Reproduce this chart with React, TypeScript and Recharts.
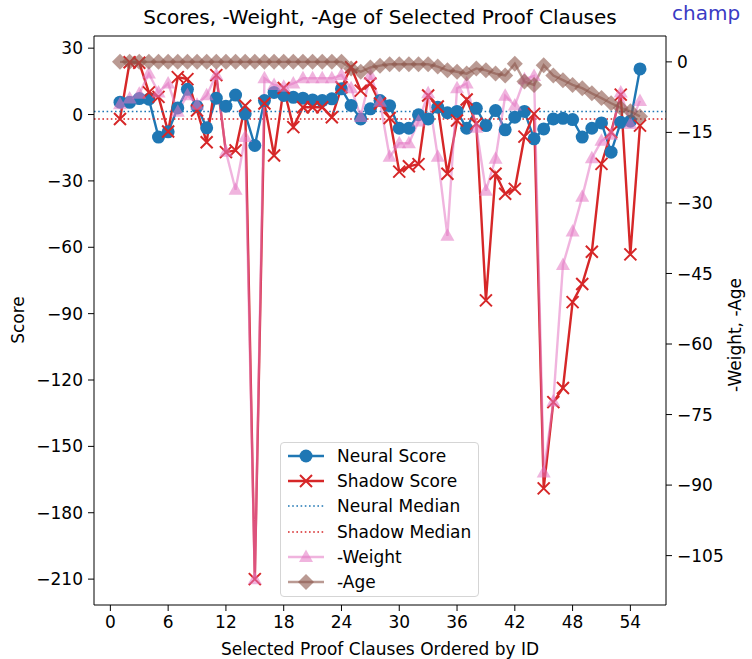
import React from "react";
import {
  ComposedChart,
  Line,
  XAxis,
  YAxis,
  ReferenceLine,
} from "recharts";

// values
const clauseIds = [
  1, 2, 3, 4, 5, 6, 7, 8, 9, 10, 11, 12, 13, 14, 15, 16, 17, 18, 19, 20,
  21, 22, 23, 24, 25, 26, 27, 28, 29, 30, 31, 32, 33, 34, 35, 36, 37, 38, 39, 40,
  41, 42, 43, 44, 45, 46, 47, 48, 49, 50, 51, 52, 53, 54, 55,
];

const neuralScores = [
  5.6, 5.5, 7.2, 6.9, -10.2, -7.8, 3, 11.4, 3.6, -6, 7.4, 3.8, 8.8, 0.3, -14, 6.3, 10, 8.6, 7.8, 7.4,
  6.6, 6.3, 7.1, 11.6, 4.1, -2, 2.6, 6.3, 4, -6.2, -6.2, -0.1, -2, 3.3, 0.8, 1.4, -6.2, 2.8, -5, 1.8,
  -6.9, -1.2, 1.4, -11, -6.5, -2, -1.7, -2.3, -10.2, -6.2, -3.8, -17, -3.5, -3, 20.6,
];

const shadowScores = [
  -2, 23.6, 23.4, 10, 8, -7.7, 16.9, 16, 1.8, -12.5, 17.8, -17, -16.2, 4, -210, 5, -18.5, 12, -5.7, 3.3,
  3.3, 3.3, -1.2, 12.3, 21.4, 10.8, 14, 5, -1.6, -25.8, -23.4, -22.4, 8.6, 3.6, -26.8, -2.7, 6.8, -4.2, -84, -26.8,
  -35.8, -33.6, -10, 0.3, -169, -130, -123.6, -84.8, -76.6, -62, -22.3, -8, 9, -63.2, -5,
];

const negWeights = [
  -9, -7.8, -6.8, -2.5, -6.5, -4.6, -10.6, -7.1, -9.1, -7.1, -2.8, -19.1, -27.2, -16, -110, -3.5, -4.9, -5.3, -4.6, -3.5,
  -3.5, -3.5, -3.5, -2.8, -5.6, -11.7, -2.8, -8.5, -20.2, -17.3, -17.3, -12.7, -6.7, -20.2, -37, -5.6, -4.6, -14, -27.4, -20.6,
  -7.2, -9.3, -3.7, -3, -87.3, -72.2, -43.2, -36.1, -28.7, -20.5, -16.8, -15.5, -6.5, -13.2, -8.3,
];

const negAges = [
  0, 0, 0, 0, 0, 0, 0, 0, 0, 0, 0, 0, 0, 0, 0, 0, 0, 0, 0, 0,
  0, 0, 0, 0, -1.4, -2.1, -1.2, -0.8, -0.5, -0.5, -0.5, -0.5, -0.5, -1, -1.8, -2.1, -2.5, -1.4, -1.8, -2.5,
  -2.9, -0.4, -4.2, -4.9, -0.7, -2.9, -3.9, -4.9, -5.6, -6.7, -7.7, -8.8, -9.8, -10.5, -11.6,
];

const neuralMedian = 1.4;
const shadowMedian = -2;

const xTicks = [0, 6, 12, 18, 24, 30, 36, 42, 48, 54];
const scoreTicks = [30, 0, -30, -60, -90, -120, -150, -180, -210];
const rightTicks = [0, -15, -30, -45, -60, -75, -90, -105];

const BLUE = "#1f77b4";
const RED = "#d62728";
const PINK = "#e377c2";
const BROWN = "#8c564b";
const FONT = "DejaVu Sans";

const data = clauseIds.map((id, i) => ({
  id,
  neural: neuralScores[i],
  shadow: shadowScores[i],
  weight: negWeights[i],
  age: negAges[i],
}));

const fmt = (v: number) => (v < 0 ? "\u2212" + Math.abs(v) : String(v));

const tickStyle = { fill: "#000", fontSize: 17, fontFamily: FONT };

const circleDot = (p: any) => {
  if (p.cx == null || p.cy == null) return <g key={`n${p.index}`} />;
  return <circle key={`n${p.index}`} cx={p.cx} cy={p.cy} r={6.5} fill={BLUE} />;
};

const crossDot = (p: any) => {
  if (p.cx == null || p.cy == null) return <g key={`s${p.index}`} />;
  const { cx, cy } = p;
  const s = 6;
  return (
    <path
      key={`s${p.index}`}
      d={`M${cx - s},${cy - s}L${cx + s},${cy + s}M${cx - s},${cy + s}L${cx + s},${cy - s}`}
      stroke={RED}
      strokeWidth={2}
      fill="none"
    />
  );
};

const triDot = (p: any) => {
  if (p.cx == null || p.cy == null) return <g key={`w${p.index}`} />;
  const { cx, cy } = p;
  return (
    <polygon
      key={`w${p.index}`}
      points={`${cx},${cy - 7.5} ${cx + 7},${cy + 5} ${cx - 7},${cy + 5}`}
      fill={PINK}
      fillOpacity={0.55}
    />
  );
};

const diamondDot = (p: any) => {
  if (p.cx == null || p.cy == null) return <g key={`a${p.index}`} />;
  const { cx, cy } = p;
  return (
    <polygon
      key={`a${p.index}`}
      points={`${cx},${cy - 8} ${cx + 8},${cy} ${cx},${cy + 8} ${cx - 8},${cy}`}
      fill={BROWN}
      fillOpacity={0.6}
    />
  );
};

const legendItems = [
  { label: "Neural Score", kind: "circle" },
  { label: "Shadow Score", kind: "cross" },
  { label: "Neural Median", kind: "dotBlue" },
  { label: "Shadow Median", kind: "dotRed" },
  { label: "-Weight", kind: "tri" },
  { label: "-Age", kind: "diamond" },
];

function LegendIcon({ kind }: { kind: string }) {
  const y = 10;
  switch (kind) {
    case "circle":
      return (
        <svg width={40} height={20}>
          <line x1={2} y1={y} x2={38} y2={y} stroke={BLUE} strokeWidth={2.4} />
          <circle cx={20} cy={y} r={6.5} fill={BLUE} />
        </svg>
      );
    case "cross":
      return (
        <svg width={40} height={20}>
          <line x1={2} y1={y} x2={38} y2={y} stroke={RED} strokeWidth={2.4} />
          <path d={`M14,${y - 6}L26,${y + 6}M14,${y + 6}L26,${y - 6}`} stroke={RED} strokeWidth={2} />
        </svg>
      );
    case "dotBlue":
    case "dotRed":
      return (
        <svg width={40} height={20}>
          <line
            x1={2}
            y1={y}
            x2={38}
            y2={y}
            stroke={kind === "dotBlue" ? BLUE : RED}
            strokeWidth={1.6}
            strokeDasharray="1.6 2.6"
          />
        </svg>
      );
    case "tri":
      return (
        <svg width={40} height={20}>
          <line x1={2} y1={y} x2={38} y2={y} stroke={PINK} strokeOpacity={0.55} strokeWidth={2.4} />
          <polygon points={`20,${y - 7.5} 27,${y + 5} 13,${y + 5}`} fill={PINK} fillOpacity={0.55} />
        </svg>
      );
    default:
      return (
        <svg width={40} height={20}>
          <line x1={2} y1={y} x2={38} y2={y} stroke={BROWN} strokeOpacity={0.6} strokeWidth={2.4} />
          <polygon points={`20,${y - 8} 28,${y} 20,${y + 8} 12,${y}`} fill={BROWN} fillOpacity={0.6} />
        </svg>
      );
  }
}

export default function App() {
  return (
    <div
      style={{
        position: "absolute",
        left: 0,
        top: 0,
        width: 752,
        height: 659,
        overflow: "hidden",
        background: "#fff",
        fontFamily: FONT,
        color: "#000",
      }}
    >
      {/* stray text from the page behind the figure */}
      <div
        style={{
          position: "absolute",
          left: 672,
          top: 2,
          fontSize: 20,
          lineHeight: "22px",
          color: "#3b3bc4",
          whiteSpace: "nowrap",
        }}
      >
        champ
      </div>

      <div
        style={{
          position: "absolute",
          left: 94,
          width: 572,
          top: 5,
          textAlign: "center",
          fontSize: 20,
          whiteSpace: "nowrap",
        }}
      >
        Scores, -Weight, -Age of Selected Proof Clauses
      </div>

      <ComposedChart
        width={752}
        height={659}
        data={data}
        margin={{ top: 36, right: 0, bottom: 0, left: 0 }}
      >
        <XAxis
          dataKey="id"
          type="number"
          domain={[-1.7, 57.7]}
          ticks={xTicks}
          interval={0}
          allowDataOverflow
          height={54}
          tick={tickStyle}
          tickSize={6}
          tickMargin={5}
          tickLine={{ stroke: "#000" }}
          axisLine={{ stroke: "#000" }}
        />
        <YAxis
          yAxisId="left"
          type="number"
          domain={[-221.7, 35.5]}
          ticks={scoreTicks}
          interval={0}
          allowDataOverflow
          width={94}
          tick={tickStyle}
          tickFormatter={fmt}
          tickSize={6}
          tickMargin={5}
          tickLine={{ stroke: "#000" }}
          axisLine={{ stroke: "#000" }}
        />
        <YAxis
          yAxisId="right"
          orientation="right"
          type="number"
          domain={[-115.5, 5.5]}
          ticks={rightTicks}
          interval={0}
          allowDataOverflow
          width={86}
          tick={{ ...tickStyle, textAnchor: "start" }}
          tickFormatter={fmt}
          tickSize={6}
          tickMargin={5}
          tickLine={{ stroke: "#000" }}
          axisLine={{ stroke: "#000" }}
        />

        {/* top spine */}
        <ReferenceLine yAxisId="right" y={5.5} stroke="#000" strokeWidth={1} ifOverflow="visible" />

        <Line
          yAxisId="left"
          dataKey="neural"
          stroke={BLUE}
          strokeWidth={2.4}
          dot={circleDot}
          activeDot={false}
          isAnimationActive={false}
        />
        <Line
          yAxisId="left"
          dataKey="shadow"
          stroke={RED}
          strokeWidth={2.4}
          dot={crossDot}
          activeDot={false}
          isAnimationActive={false}
        />
        <ReferenceLine
          yAxisId="left"
          y={neuralMedian}
          stroke={BLUE}
          strokeWidth={1.6}
          strokeDasharray="1.6 2.6"
        />
        <ReferenceLine
          yAxisId="left"
          y={shadowMedian}
          stroke={RED}
          strokeWidth={1.6}
          strokeDasharray="1.6 2.6"
        />
        <Line
          yAxisId="right"
          dataKey="weight"
          stroke={PINK}
          strokeOpacity={0.55}
          strokeWidth={2.4}
          dot={triDot}
          activeDot={false}
          isAnimationActive={false}
        />
        <Line
          yAxisId="right"
          dataKey="age"
          stroke={BROWN}
          strokeOpacity={0.6}
          strokeWidth={2.4}
          dot={diamondDot}
          activeDot={false}
          isAnimationActive={false}
        />
      </ComposedChart>

      {/* axis titles */}
      <div
        style={{
          position: "absolute",
          left: 18,
          top: 320,
          transform: "translate(-50%, -50%) rotate(-90deg)",
          fontSize: 17,
          whiteSpace: "nowrap",
        }}
      >
        Score
      </div>
      <div
        style={{
          position: "absolute",
          left: 735,
          top: 335,
          transform: "translate(-50%, -50%) rotate(-90deg)",
          fontSize: 17,
          whiteSpace: "nowrap",
        }}
      >
        -Weight, -Age
      </div>
      <div
        style={{
          position: "absolute",
          left: 94,
          width: 572,
          top: 639,
          textAlign: "center",
          fontSize: 17,
          whiteSpace: "nowrap",
        }}
      >
        Selected Proof Clauses Ordered by ID
      </div>

      {/* legend */}
      <div
        style={{
          position: "absolute",
          left: 280,
          top: 442,
          width: 199,
          height: 155,
          border: "1px solid #d5d5d5",
          borderRadius: 4,
          background: "rgba(255,255,255,0.8)",
          boxSizing: "border-box",
        }}
      >
        {legendItems.map((it, i) => (
          <div
            key={it.label}
            style={{
              position: "absolute",
              left: 5,
              top: 3 + i * 25.2,
              height: 20,
              display: "flex",
              alignItems: "center",
              fontSize: 17,
              whiteSpace: "nowrap",
            }}
          >
            <LegendIcon kind={it.kind} />
            <span style={{ marginLeft: 11 }}>{it.label}</span>
          </div>
        ))}
      </div>
    </div>
  );
}
